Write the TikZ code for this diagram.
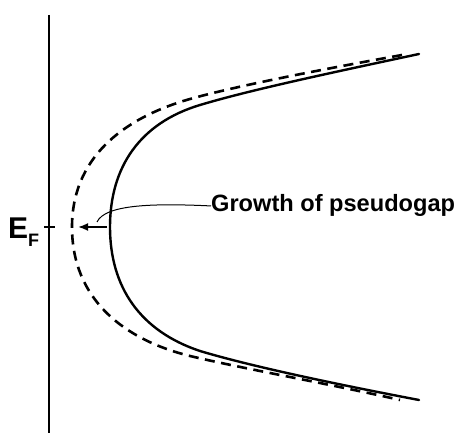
\documentclass[tikz,border=0pt]{standalone}
\usepackage{fontspec}
\setmainfont{Liberation Sans}[BoldFont={Liberation Sans Bold}]
\newfontfamily\lblfont{Liberation Sans Bold}
\usetikzlibrary{arrows.meta}
\tikzset{
  axisline/.style={line width=2.6pt},
  bandsolid/.style={line width=2.4pt, line cap=round},
  banddash/.style={line width=2.6pt, dash pattern=on 10pt off 6.5pt},
  leader/.style={line width=1pt},
  ptr/.style={line width=1.8pt, -{Latex[length=10pt,width=8pt]}},
  lbl/.style={inner sep=0pt, font=\lblfont}
}
\begin{document}
\begin{tikzpicture}[x=1pt,y=-1pt]
\useasboundingbox (0,0) rectangle (456,435);
% axis
\coordinate (axtop) at (49,15);
\coordinate (axbot) at (49,433);
\draw[axisline] (axtop) -- (axbot);
\coordinate (tickL) at (44,227);
\coordinate (tickR) at (55,227);
\draw[line width=1.4pt] (tickL) -- (tickR);
\node[lbl, anchor=base west] (ef) at (8,239)
  {{\fontsize{30}{30}\selectfont E}\raisebox{-8pt}{\fontsize{18}{18}\selectfont F}};
% solid curve
\draw[bandsolid] (419,54) .. controls (330,73) and (250,90) .. (200,105)
  .. controls (140,123) and (110,167) .. (110,227)
  .. controls (110,287) and (140,331) .. (200,351)
  .. controls (250,366) and (330,383) .. (419,400);
% dashed curve
\draw[banddash] (402,55) .. controls (330,68) and (240,85) .. (190,99)
  .. controls (120,119) and (72,160) .. (72,227)
  .. controls (72,300) and (125,340) .. (190,356)
  .. controls (240,368) and (330,384) .. (400,400);
% label and pointer
\node[lbl, anchor=base west] (lab) at (211,212)
  {\fontsize{23.6}{28}\selectfont Growth of pseudogap};
\coordinate (hook) at (97,222);
\draw[leader] (lab.west) .. controls (150,203) and (105,205) .. (hook);
\coordinate (arS) at (107,227);
\coordinate (arE) at (78,227);
\draw[ptr] (arS) -- (arE);
\end{tikzpicture}
\end{document}
